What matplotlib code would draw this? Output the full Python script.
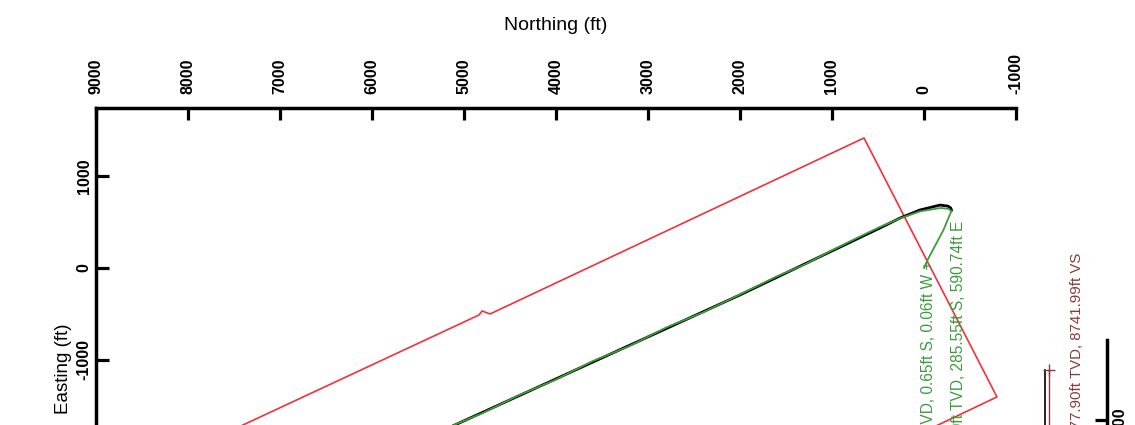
import matplotlib
matplotlib.use("Agg")
import matplotlib.pyplot as plt
from matplotlib.transforms import ScaledTranslation

plt.rcParams['font.family'] = ['Liberation Sans', 'DejaVu Sans']

# ---------------- data ----------------
northing_ticks = [9000, 8000, 7000, 6000, 5000, 4000, 3000, 2000, 1000, 0, -1000]
easting_ticks = [1000, 0, -1000, -2000, -3000]

# planned wellpath (black)
plan_n = [-300, -290, -262, -175, 45, 260, 478, 2000, 5076, 7950]
plan_e = [625, 652, 672, 684, 630, 543, 435, -293, -1696, -3007]

# actual wellpath (green)
act_n = [-0.65, -40, -210, -285.55, -298, -268, -180, 40, 260, 478, 700, 1000,
         1300, 1600, 2000, 2400, 2800, 3200, 3600, 4000, 4400, 4800, 5200, 5600,
         6000, 6500, 7950]
act_e = [-0.06, 90, 410, 590.74, 618, 642, 652, 616, 540, 446, 340, 192,
         36, -92, -288, -482, -646, -848, -1012, -1212, -1382, -1578, -1745, -1940,
         -2110, -2350, -3010]

# hardline / lease polygon (red)
hard_n = [9600, 4837, 4804, 4717, 652, -793, 7000, 9600]
hard_e = [-2731, -511, -467, -500, 1413, -1402, -5111, -2731]

surface_label = "0.00ft TVD, 0.65ft S, 0.06ft W +"
nudge_label = "607.80ft TVD, 285.55ft S, 590.74ft E"

# vertical-section panel (partly visible at right)
vs_ticks = [8500]
plan_vs = [2000, 8741.99]
plan_tvd = [8458.6, 8458.6]
act_vs = [2000, 8741.99]
act_tvd = [8477.90, 8477.90]
end_label = "8477.90ft TVD, 8741.99ft VS"

# ---------------- figure ----------------
W, H = 1135, 425
fig = plt.figure(figsize=(W / 100, H / 100), dpi=100)

RED = '#f2303c'
GREEN = '#3c9c3c'
BROWN = '#8c3a3a'

ax = fig.add_axes([96 / W, (H - 630) / H, 920 / W, 522 / H])
ax.set_xlim(9000, -1000)
ax.set_ylim(-3935, 1739)

ax.plot(hard_n, hard_e, color=RED, lw=1.2, zorder=2)
ax.plot(plan_n, plan_e, color='black', lw=2.0, zorder=3, solid_capstyle='round',
        solid_joinstyle='round')
ax.plot(act_n, act_e, color=GREEN, lw=1.3, zorder=4)

ax.annotate(surface_label, xy=(act_n[0], act_e[0]), xytext=(4, 7),
            textcoords='offset pixels', rotation=90, rotation_mode='anchor',
            ha='right', va='center', color=GREEN, fontsize=11.2,
            annotation_clip=False)
ax.annotate(nudge_label, xy=(act_n[3], act_e[3]), xytext=(8, -7),
            textcoords='offset pixels', rotation=90, rotation_mode='anchor',
            ha='right', va='center', color=GREEN, fontsize=11.2,
            annotation_clip=False)

ax.xaxis.tick_top()
ax.xaxis.set_label_position('top')
ax.set_xticks(northing_ticks)
ax.set_yticks(easting_ticks)
ax.set_xticklabels([str(t) for t in northing_ticks], rotation=90, fontweight='bold')
ax.set_yticklabels([str(t) for t in easting_ticks], rotation=90, fontweight='bold',
                   va='center')
ax.tick_params(axis='x', direction='in', length=8.8, width=2.3, labelsize=11.5, pad=10)
ax.tick_params(axis='y', direction='in', length=9.4, width=2.3, labelsize=11.5, pad=3)

for s in ['right', 'bottom']:
    ax.spines[s].set_visible(False)
for s in ['top', 'left']:
    ax.spines[s].set_linewidth(2.5)

ax.set_xlabel("Northing (ft)", fontsize=14)
ax.xaxis.set_label_coords(0.5, (630 - 25) / 522)
ax.xaxis.label.set_va('center')
ax.set_ylabel("Easting (ft)", fontsize=13.5)
ax.yaxis.set_label_coords((63 - 96) / 920, (630 - 369) / 522)
ax.yaxis.label.set_va('center')

# vertical section panel
ax2 = fig.add_axes([1000 / W, (H - 760) / H, 107 / W, 420 / H])
ax2.set_xlim(8240.7, 8758.6)
ax2.set_ylim(6854, 8887)
ax2.patch.set_visible(False)
ax2.plot(plan_tvd, plan_vs, color='black', lw=1.2)
ax2.plot(act_tvd, act_vs, color=BROWN, lw=1.0)
ax2.plot([act_tvd[-1]], [act_vs[-1]], marker='+', ms=8, mew=1.0, color=BROWN)
ax2.annotate(end_label, xy=(act_tvd[-1], act_vs[-1]), xytext=(28, 117),
             textcoords='offset pixels', rotation=90, rotation_mode='anchor',
             ha='right', va='center', color=BROWN, fontsize=10.8,
             annotation_clip=False)
for s in ['left', 'top', 'bottom']:
    ax2.spines[s].set_visible(False)
ax2.spines['right'].set_linewidth(2.5)
ax2.set_xticks([])
ax2.yaxis.tick_right()
ax2.set_yticks(vs_ticks)
ax2.set_yticklabels([str(t) for t in vs_ticks], rotation=90, fontweight='bold',
                    va='center')
ax2.tick_params(axis='y', direction='in', length=8.8, width=2.3, labelsize=11.5, pad=4)
shift = ScaledTranslation(0, -5 / 100, fig.dpi_scale_trans)
for lab in ax2.get_yticklabels():
    lab.set_transform(lab.get_transform() + shift)

fig.savefig("out.png", dpi=100)
